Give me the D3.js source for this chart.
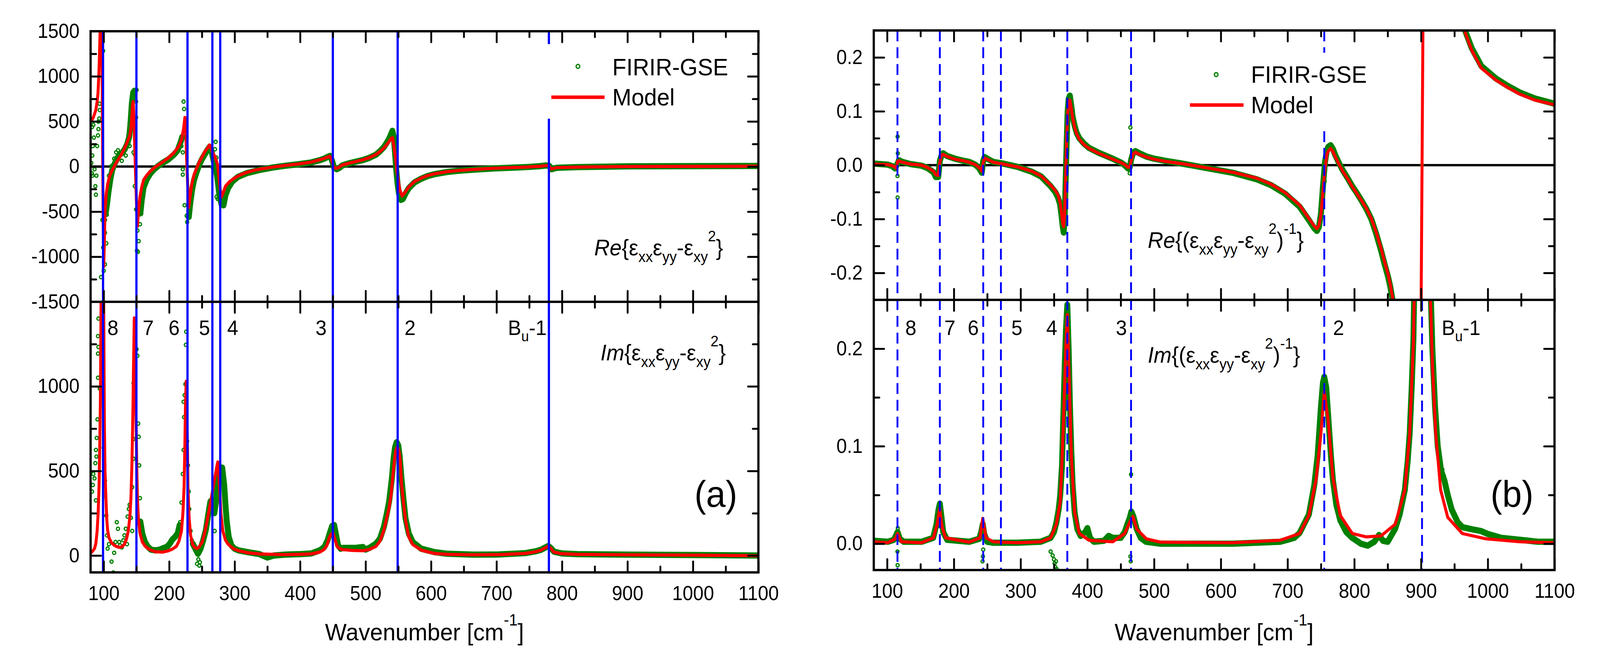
<!DOCTYPE html>
<html>
<head>
<meta charset="utf-8">
<script src="https://cdn.jsdelivr.net/npm/d3@7/dist/d3.min.js"></script>
<style>
html, body { margin: 0; padding: 0; background: #fff; overflow: hidden; }
#chart { display: block; width: 100vw; height: 100vh; }
text { font-family: "Liberation Sans", Arial, sans-serif; fill: #000; }
</style>
</head>
<body>
<svg id="chart" viewBox="0 0 4327 1675" preserveAspectRatio="none"></svg>
<script>
// ---------- data: [wavenumber, value] ----------

// (a) upper: Re{exx*eyy - exy^2}
var aReModel = [[80,497],[84,540],[88,626],[90,720],[91.3,813],[92.5,1000],[93.3,1165],[94.5,1500],[95.5,2200],[96.5,2300],[97.3,1500],[98.2,400],[99.2,-600],[100,-1110],[101,-850],[102,-500],[104,-300],[106,-195],[109,-110],[112,-54],[116,0],[120,52],[126,120],[132,204],[136,270],[140,345],[142,450],[144,680],[145,720],[146,560],[147.5,204],[148.5,-30],[149.5,-265],[150.5,-480],[151.5,-663],[153,-520],[155.4,-335],[158,-230],[161,-148],[166,-95],[171,-54],[177,-15],[183,16],[190,50],[199,98],[207,150],[215,227],[219,300],[222,420],[224,544],[225.5,350],[226.7,87],[228,-150],[229,-330],[230,-452],[232,-330],[234.6,-195],[238,-90],[242.6,-7],[246,50],[250.5,110],[254,160],[258.4,204],[261.6,239],[264,200],[266,160],[270,110],[274,20],[276,-120],[278,-260],[280,-335],[282,-300],[286,-218],[292,-170],[298,-136],[308,-95],[318,-66],[328,-45],[337.6,-30],[357,-7],[377,12],[397,28],[417,49],[430,75],[437,91],[442,105],[445,115],[448,80],[450.5,5],[453,-15],[456,-19],[460,-5],[464,16],[470,28],[476,40],[486,57],[496,75],[506,100],[516,134],[522,165],[528,204],[532,240],[535.6,274],[539.6,315],[541.2,320],[543.6,204],[546,80],[548,-60],[550,-150],[552,-250],[555.8,-327],[560,-290],[565.7,-227],[575,-165],[585.5,-127],[595,-100],[605.3,-80],[625,-56],[645,-42],[664.7,-32],[704.4,-16],[744,-6],[765,2],[775.6,10],[779,12],[783.6,-26],[787,-20],[791.5,-12],[823,-6],[862,-3],[902,0],[1000,2],[1100,4]];
var aReBand = [[103,-520],[105,-420],[107,-300],[110,-150],[113,-40],[116,20],[120,80],[124,130],[128,150],[132,190],[136,250],[139,330],[141,480],[143,700],[145,820],[147,840],[150,null],[156,-520],[158,-380],[161,-230],[166,-140],[171,-80],[177,-30],[183,5],[190,40],[199,80],[207,130],[213,180],[217,260],[220,330],[225,null],[230,-560],[232,-420],[235,-260],[238,-150],[242,-60],[246,20],[250,80],[254,130],[258,180],[262,220],[265,160],[268,60],[271,0],[274,-150],[277,-330],[280,-420],[283,-430],[286,-320],[290,-240],[296,-170],[305,-115],[318,-75],[337,-40],[357,-12],[377,8],[397,25],[417,45],[430,70],[437,88],[443,110],[446,118],[449,60],[452,-15],[456,-30],[460,-15],[464,10],[470,25],[476,38],[486,55],[496,72],[506,97],[516,132],[522,170],[528,215],[532,260],[536,310],[539,360],[541,396],[543,330],[545,150],[547,-50],[549,-200],[551,-300],[554,-370],[557,-360],[561,-300],[566,-240],[575,-175],[585,-135],[595,-105],[605,-85],[625,-60],[645,-45],[665,-35],[705,-18],[744,-7],[765,3],[776,12],[781,5],[784,-30],[788,-22],[792,-14],[823,-6],[862,-2],[902,2],[1000,4],[1100,6]];
var aReScatter = [[81,40],[82.2,438],[82.2,-77],[82.6,122],[83,-101],[83.4,227],[84.2,462],[85,321],[86,-30],[87.3,-218],[88.1,-312],[88.9,-101],[90,227],[91.3,345],[92,415],[92,497],[93.3,532],[93.7,696],[94,626],[96,-1226],[98,-593],[99.2,1282],[99.2,-898],[100,-1156],[102,-593],[102,-734],[102,-1085],[104,-499],[104,-851],[104.8,-534],[108,-101],[112,5],[116,87],[119,157],[121.8,180],[127.7,63],[133.7,122],[137.6,345],[139.6,227],[139.6,485],[141.6,649],[142.8,743],[144.4,813],[145.5,157],[147.5,134],[147.5,837],[147.5,-218],[149.5,720],[149.5,544],[149.5,-476],[150.3,849],[150.7,-933],[151.5,-710],[152.3,-945],[153.5,-827],[155.4,-640],[157.4,-523],[218.8,227],[220.8,157],[220.8,-30],[220.8,-89],[222,720],[222.8,638],[223.6,-429],[224.8,520],[226.7,-546],[227.5,-616],[229.5,-499],[266,-7],[268,-54],[270,192],[271,274],[272.3,98],[272.3,-335],[273.5,-171],[274,-359]];

// (a) lower: Im{exx*eyy - exy^2}
var aImModel = [[80,14],[83,25],[86,41],[88,70],[90,145],[91.5,250],[92.9,404],[94,650],[95,922],[96,1500],[97,2600],[98,3200],[99,2400],[100,1500],[101,793],[102,500],[102.8,404],[104,280],[104.8,210],[106,150],[108,106],[112,75],[116,61],[120,52],[124,48],[128,52],[131.7,67],[135,100],[137.6,145],[140,230],[141.6,339],[143,520],[144.4,793],[145.5,1100],[146.7,1405],[147.8,1150],[149.5,793],[150.5,520],[151.5,339],[153,220],[155.4,132],[159,80],[163.4,54],[170,35],[179,22],[190,20],[199,28],[205,38],[211,54],[215,85],[218.8,145],[221,250],[222.8,404],[224,650],[225,900],[226,1030],[227,850],[228,620],[228.7,404],[230.5,220],[232.7,119],[236,65],[239,47],[242.6,41],[246,52],[250.5,80],[254,130],[258.4,210],[262,290],[264.4,339],[268,420],[270.3,469],[272.5,520],[274.3,553],[275.5,500],[277.4,378],[279,250],[282,145],[286,90],[290,67],[298,40],[306,28],[320,16],[337.6,9],[377,5],[417,9],[430,20],[436.6,35],[441,60],[444.6,106],[447,125],[450.5,132],[453,100],[456.4,54],[460,42],[464,35],[480,30],[496,28],[506,36],[516,54],[522,85],[527.7,145],[531,200],[535.6,275],[539,360],[541.6,469],[544,560],[546,620],[548.5,642],[551,620],[553,560],[555,420],[557.8,316],[561,210],[565.7,113],[572,65],[585.5,31],[605.3,12],[625,7],[664.7,4],[704,5],[744,12],[760,22],[767.7,31],[773,42],[778.8,54],[783,42],[787.5,20],[800,10],[823,7],[900,4],[1000,2],[1100,-2]];
var aImBand = [[156,200],[159,130],[163,80],[167,54],[172,35],[179,30],[186,35],[192,45],[197,52],[201,70],[205,95],[209,110],[213,130],[216,180],[226,null],[236,70],[240,40],[244,10],[248,40],[252,90],[256,150],[260,250],[263,320],[266,330],[269,250],[272,330],[275,500],[278,510],[281,520],[284,420],[286,300],[288,200],[291,110],[295,60],[300,40],[306,30],[320,20],[338,8],[350,-12],[360,0],[377,5],[400,8],[417,12],[430,30],[437,50],[442,90],[446,140],[449,175],[452,180],[455,120],[458,60],[462,40],[466,45],[475,45],[485,45],[496,50],[500,35],[506,45],[516,70],[522,100],[528,170],[532,240],[536,320],[540,450],[543,580],[545,640],[547.5,670],[550,650],[552,590],[555,450],[558,330],[561,220],[566,130],[572,80],[585,40],[605,20],[625,10],[665,5],[704,6],[744,14],[760,25],[768,34],[774,46],[779,56],[783,44],[788,22],[800,12],[823,8],[900,5],[1000,3],[1100,0]];
var aImScatter = [[82.2,378],[83.4,417],[84.2,482],[86,456],[87.3,546],[88.1,624],[88.1,326],[88.9,585],[89.3,695],[90.5,805],[91.3,1297],[91.3,1194],[91.3,1051],[92,1401],[92,1233],[94,987],[100,637],[101,533],[102,443],[102,352],[104,236],[105,119],[106,41],[108,67],[112,-36],[114.7,-101],[116,16],[118,80],[120,197],[121.8,158],[123.8,80],[125,60],[127.7,48],[130,90],[131.7,119],[133.7,158],[135.6,67],[136.5,230],[138.4,275],[139.6,300],[141.6,223],[143.6,145],[143.6,404],[145.5,572],[145.5,689],[145.5,1019],[147.5,948],[147.5,1207],[150.3,1220],[151.5,1181],[152.7,780],[153.5,702],[154.3,533],[155.4,339],[216.8,197],[218.8,313],[220.8,482],[222,624],[222,909],[222.8,818],[223.6,948],[224.8,1013],[225.5,1246],[226,1323],[227.5,676],[228.7,533],[229.9,378],[230.7,275],[232.7,145],[234.5,90],[242.6,-49],[244.6,-23],[246,-60],[247,-40],[267,313],[269.5,145],[270,280]];

// (b) upper: Re{(exx*eyy - exy^2)^-1}
var bReModel = [[80,0.002],[90,0.0015],[101,0.001],[108,-0.001],[112,-0.004],[114,-0.006],[115.7,0.007],[118,0.008],[122.8,0.0055],[135,0.002],[151.5,0],[160,-0.004],[169.4,-0.011],[173,-0.018],[176.6,-0.019],[179,0.005],[181,0.018],[183.8,0.020],[190,0.016],[201.7,0.011],[215,0.008],[223,0.0055],[232,0.001],[237.5,-0.004],[241.8,-0.011],[244,0.005],[246,0.013],[250,0.011],[259,0.0055],[273.4,0.002],[295,-0.003],[316.4,-0.011],[330.7,-0.020],[345,-0.037],[352,-0.047],[356,-0.055],[359,-0.068],[361,-0.085],[363,-0.107],[364.5,-0.114],[366,-0.09],[367.5,-0.02],[369,0.05],[370.5,0.095],[372,0.115],[373.8,0.121],[376,0.105],[378,0.088],[381,0.070],[384,0.058],[388,0.048],[395,0.038],[402.5,0.031],[417,0.022],[438,0.011],[450,0.005],[456,0.001],[461,-0.004],[463.5,-0.003],[466,0.01],[469,0.021],[472,0.024],[478,0.020],[488.5,0.015],[500,0.011],[517,0.007],[546,0.002],[581.7,-0.0055],[617.5,-0.013],[653.4,-0.024],[675,-0.035],[696.4,-0.051],[718,-0.074],[732,-0.099],[740,-0.113],[744,-0.118],[747,-0.112],[750,-0.092],[753,-0.05],[756,-0.007],[759,0.02],[761,0.026],[764.5,0.031],[768,0.025],[771.7,0.015],[777,0.002],[782.5,-0.011],[790,-0.025],[797,-0.040],[804,-0.053],[811,-0.066],[818,-0.080],[825.5,-0.099],[833,-0.125],[840,-0.154],[845,-0.178],[850.6,-0.202],[854,-0.222],[857.7,-0.248],[865,-0.32],[875,-0.45],[885,-0.75],[893,-1.6],[901.5,0],[910,1.6],[925,0.8],[945,0.4],[965.3,0.249],[976,0.213],[990.4,0.180],[1012,0.158],[1030,0.144],[1047.7,0.132],[1070,0.121],[1100,0.112]];
var bReBand = [[80,0.003],[90,0.002],[101,0.001],[108,-0.002],[112,-0.006],[118,0.009],[123,0.006],[135,0.002],[151.5,-0.001],[160,-0.005],[169.4,-0.013],[173,-0.022],[176.6,-0.022],[179,0.008],[182,0.020],[184,0.022],[190,0.017],[201.7,0.012],[215,0.008],[223,0.006],[232,0.001],[237.5,-0.005],[241.8,-0.014],[244,0.008],[246,0.015],[250,0.012],[259,0.006],[273.4,0.003],[295,-0.003],[316.4,-0.012],[330.7,-0.021],[345,-0.039],[352,-0.05],[356,-0.06],[359,-0.072],[361,-0.09],[363,-0.113],[364.5,-0.125],[366,-0.1],[367.5,-0.03],[369,0.04],[370.5,0.1],[372,0.123],[373.8,0.129],[376,0.11],[378,0.09],[381,0.073],[384,0.06],[388,0.05],[395,0.04],[402.5,0.032],[417,0.023],[438,0.012],[450,0.005],[456,0.0],[461,-0.006],[463.5,-0.004],[466,0.012],[469,0.024],[472,0.026],[478,0.022],[488.5,0.016],[500,0.012],[517,0.008],[546,0.002],[581.7,-0.006],[617.5,-0.014],[653.4,-0.026],[675,-0.037],[696.4,-0.053],[718,-0.077],[732,-0.102],[740,-0.117],[744,-0.122],[747,-0.115],[750,-0.09],[753,-0.04],[756,0.005],[759,0.028],[761,0.034],[764.5,0.037],[768,0.03],[771.7,0.018],[777,0.004],[782.5,-0.009],[790,-0.024],[797,-0.039],[804,-0.052],[811,-0.066],[818,-0.081],[825.5,-0.1],[833,-0.128],[840,-0.158],[845,-0.182],[850.6,-0.207],[854,-0.226],[858,-0.255],[900,null],[963,0.26],[965.3,0.252],[976,0.217],[990.4,0.184],[1012,0.161],[1030,0.147],[1047.7,0.135],[1070,0.124],[1100,0.114]];
var bReScatter = [[115.7,0.053],[116,0.022],[115.5,-0.020],[115.7,-0.060],[116.5,0.010],[464.5,0.070],[463.5,-0.015],[466,0.008],[901.5,0],[368.5,0.0],[369,0.02],[369.5,0.05],[370,0.075],[370.5,0.09],[755.5,-0.03],[756,-0.01],[756.5,0.005],[757,0.015]];

// (b) lower: Im{(exx*eyy - exy^2)^-1}
var bImModel = [[80,0.002],[101,0.001],[112,0.005],[115.7,0.0105],[121.4,0.002],[151.5,0.001],[169.4,0.006],[175,0.020],[178.7,0.036],[182.3,0.0175],[187.4,0.006],[223,0.0016],[239,0.006],[243.3,0.026],[248.3,0.006],[259,0.002],[295,0.001],[330.7,0.002],[345,0.006],[353.7,0.020],[359.4,0.043],[363.7,0.113],[368,0.207],[370,0.235],[372.3,0.184],[376,0.090],[381,0.032],[388,0.0105],[402.5,0.0035],[438,0.002],[456,0.0105],[463.4,0.022],[468.4,0.028],[474,0.015],[488.5,0.005],[510,0.0016],[617.5,0.001],[689,0.0035],[718,0.0105],[732,0.029],[743,0.067],[750,0.113],[755,0.156],[761,0.125],[768,0.067],[779,0.029],[797,0.0105],[818,0.007],[840,0.008],[861.3,0.020],[875.7,0.055],[883,0.113],[888.6,0.207],[890,0.26],[895,0.6],[901.5,1.0],[908,0.6],[913.7,0.26],[917,0.184],[922,0.113],[929.4,0.055],[940,0.027],[961.7,0.0105],[997.5,0.005],[1048,0.002],[1100,0.001]];
var bImBand = [[80,0.003],[101,0.002],[110,0.004],[113,0.008],[115.7,0.012],[119,0.005],[125,0.002],[151.5,0.002],[169,0.006],[174,0.02],[177,0.035],[179,0.041],[181,0.03],[184,0.012],[190,0.004],[223,0.002],[238,0.005],[241,0.012],[243.3,0.02],[245.5,0.01],[250,0.002],[259,0.001],[295,0.001],[330,0.002],[345,0.006],[350,0.012],[353.7,0.022],[357,0.035],[359.4,0.05],[362,0.08],[364,0.13],[366,0.18],[368,0.22],[370,0.245],[372,0.2],[374,0.14],[376,0.095],[378,0.06],[381,0.032],[385,0.015],[390,0.008],[397,0.012],[400,0.016],[404,0.006],[410,0.002],[425,0.003],[432,0.008],[438,0.006],[450,0.006],[456,0.012],[460,0.02],[463.4,0.026],[466,0.033],[469,0.028],[474,0.015],[480,0.006],[488,0.002],[510,0.0],[560,0.0],[617.5,0.0],[689,0.002],[710,0.006],[718,0.011],[732,0.03],[740,0.06],[745,0.09],[750,0.14],[753,0.165],[755,0.171],[758,0.16],[761,0.13],[765,0.09],[768,0.065],[773,0.04],[779,0.024],[788,0.012],[797,0.006],[810,0.0],[820,-0.002],[830,0.002],[837,0.009],[843,0.003],[850,0.002],[861,0.015],[868,0.03],[875.7,0.055],[880,0.085],[883,0.113],[886,0.16],[888.6,0.21],[890,0.27],[901.5,1.0],[914,0.27],[917,0.2],[921,0.14],[925,0.1],[930,0.075],[935,0.065],[940,0.05],[946,0.035],[955,0.022],[962,0.017],[975,0.015],[990,0.013],[1000,0.01],[1020,0.006],[1048,0.004],[1075,0.002],[1100,0.002]];
var bImScatter = [[115.7,-0.022],[115.5,-0.008],[116,0.016],[243.5,-0.013],[243,-0.018],[244,-0.006],[345,-0.008],[348,-0.012],[350,-0.016],[351,-0.02],[352,-0.024],[353,-0.018],[354,-0.026],[465.5,0.071],[464.5,-0.013],[465,-0.018],[932,0.076],[934,0.07],[935,0.067]];

// mode positions (cm-1) and their labels
var modeLinesA = [99, 150, 228, 266, 278, 450, 549, 780];
var modeLinesB = [115.5, 179, 244, 270.5, 370, 465.5, 755, 901.5];
var modeNames = ["8", "7", "6", "5", "4", "3", "2", "Bu-1"];
var modeLabelNuA = [114, 168, 207.6, 254, 297, 432, 568, 747];
var modeLabelNuB = [135.5, 194, 229, 294.5, 346.6, 451, 776.4, 960];

// tick values
var xMajor = d3.range(100, 1101, 100);
var xMinor = d3.range(150, 1100, 100);
var aUpMajor = [-1500, -1000, -500, 0, 500, 1000, 1500];
var aUpMinor = [-1250, -750, -250, 250, 750, 1250];
var aLoMajor = [0, 500, 1000];
var aLoMinor = [250, 750, 1250];
var bUpMajor = [-0.2, -0.1, 0, 0.1, 0.2];
var bUpMinor = [-0.15, -0.05, 0.05, 0.15];
var bLoMajor = [0, 0.1, 0.2];
var bLoMinor = [0.05, 0.15];

// ---------- drawing ----------
var GREEN = "#008000", RED = "#ff0000", BLUE = "#0000ff";
var FONT = "Liberation Sans, Arial, sans-serif";
var svg = d3.select("#chart");

var layout = {
  a: {left: 245, right: 2051, top: 80, mid: 773, bottom: 1466},
  b: {left: 2363, right: 4204, top: 78, mid: 768, bottom: 1460}
};

function mathText(sel, x, y, parts, size, anchor) {
  var t = sel.append("text").attr("x", x).attr("y", y)
    .attr("font-size", size).attr("text-anchor", anchor || "start");
  var shift = 0;
  parts.forEach(function(p) {
    var target = p.sub ? Math.round(size * 0.3) : p.sup ? -Math.round(size * 0.62) : 0;
    var ts = t.append("tspan").text(p.t).attr("dy", target - shift);
    shift = target;
    if (p.sub || p.sup) ts.attr("font-size", Math.round(size * 0.68));
    if (p.it) ts.attr("font-style", "italic");
  });
  return t;
}

function addAxis(g, axis, tx, ty, labelled) {
  var a = g.append("g").attr("transform", "translate(" + tx + "," + ty + ")").call(axis);
  // d3.axis sets its own font on the group, so override it afterwards
  a.attr("font-size", 51).attr("font-family", FONT);
  a.select(".domain").remove();
  a.selectAll(".tick line").attr("stroke", "#000").attr("stroke-width", 5).attr("stroke-linecap", "round");
  a.selectAll(".tick text").attr("fill", "#000");
  if (!labelled) a.selectAll(".tick text").remove();
  return a;
}

function drawSeries(g, x, y, model, band, scatter, clipId) {
  var line = d3.line()
    .defined(function(d) { return d[1] !== null; })
    .x(function(d) { return x(d[0]); })
    .y(function(d) { return y(d[1]); });
  var c = g.append("g").attr("clip-path", "url(#" + clipId + ")");
  c.append("path").datum(band).attr("d", line)
    .attr("fill", "none").attr("stroke", GREEN).attr("stroke-width", 16)
    .attr("stroke-linejoin", "round").attr("stroke-linecap", "round");
  var pts = band.filter(function(d) { return d[1] !== null; }).concat(scatter);
  c.selectAll("circle.pt").data(pts).enter().append("circle")
    .attr("class", "pt")
    .attr("cx", function(d) { return x(d[0]); })
    .attr("cy", function(d) { return y(d[1]); })
    .attr("r", 4.2).attr("fill", "none").attr("stroke", GREEN).attr("stroke-width", 3.3);
  c.append("path").datum(model).attr("d", line)
    .attr("fill", "none").attr("stroke", RED).attr("stroke-width", 8)
    .attr("stroke-linejoin", "round");
}

function drawPanel(key, cfg) {
  var L = layout[key];
  var x = d3.scaleLinear().domain([80, 1100]).range([L.left, L.right]);
  var yUp = d3.scaleLinear().domain(cfg.upDomain).range([L.mid, L.top]);
  var yLo = d3.scaleLinear().domain(cfg.loDomain).range([L.bottom, L.mid]);
  var g = svg.append("g").attr("id", "panel-" + key);

  var defs = g.append("defs");
  defs.append("clipPath").attr("id", "clip-" + key + "-up").append("rect")
    .attr("x", L.left).attr("y", L.top).attr("width", L.right - L.left).attr("height", L.mid - L.top);
  defs.append("clipPath").attr("id", "clip-" + key + "-lo").append("rect")
    .attr("x", L.left).attr("y", L.mid).attr("width", L.right - L.left).attr("height", L.bottom - L.mid);

  // zero line of the upper plot
  g.append("line").attr("x1", L.left).attr("x2", L.right)
    .attr("y1", yUp(0)).attr("y2", yUp(0)).attr("stroke", "#000").attr("stroke-width", 6);

  drawSeries(g, x, yUp, cfg.upModel, cfg.upBand, cfg.upScatter, "clip-" + key + "-up");
  drawSeries(g, x, yLo, cfg.loModel, cfg.loBand, cfg.loScatter, "clip-" + key + "-lo");

  // mode markers
  g.selectAll("line.mode").data(cfg.modes).enter().append("line")
    .attr("class", "mode")
    .attr("x1", function(d) { return x(d); }).attr("x2", function(d) { return x(d); })
    .attr("y1", function(d) { return cfg.lowerOnly.indexOf(d) >= 0 ? L.mid : L.top; })
    .attr("y2", L.bottom)
    .attr("stroke", BLUE).attr("stroke-width", cfg.dashed ? 5 : 6)
    .attr("stroke-dasharray", cfg.dashed ? "28,15" : null);

  // legend
  var lg = cfg.legend;
  g.append("rect").attr("x", lg.box[0]).attr("y", lg.box[1])
    .attr("width", lg.box[2] - lg.box[0]).attr("height", lg.box[3] - lg.box[1]).attr("fill", "#fff");
  g.append("circle").attr("cx", lg.cx).attr("cy", lg.cy).attr("r", 5)
    .attr("fill", "none").attr("stroke", GREEN).attr("stroke-width", 3.3);
  g.append("text").attr("x", lg.tx).attr("y", lg.ty1).attr("font-size", 62).text("FIRIR-GSE");
  g.append("line").attr("x1", lg.lx0).attr("x2", lg.lx1).attr("y1", lg.ly).attr("y2", lg.ly)
    .attr("stroke", RED).attr("stroke-width", 9);
  g.append("text").attr("x", lg.tx).attr("y", lg.ty2).attr("font-size", 62).text("Model");

  // function labels
  mathText(g, cfg.reLabel[0], cfg.reLabel[1], cfg.reParts, 58);
  mathText(g, cfg.imLabel[0], cfg.imLabel[1], cfg.imParts, 58);

  // mode numbers
  modeNames.forEach(function(name, i) {
    var parts = name === "Bu-1" ? [{t: "B"}, {t: "u", sub: 1}, {t: "-1"}] : [{t: name}];
    mathText(g, x(cfg.modeLabelNu[i]), 858, parts, 54, "middle");
  });

  // panel letter
  g.append("text").attr("x", L.right - 57).attr("y", 1298).attr("font-size", 95)
    .attr("text-anchor", "end").text("(" + key + ")");

  // axis title
  mathText(g, (L.left + L.right) / 2, 1640,
    [{t: "Wavenumber [cm"}, {t: "-1", sup: 1}, {t: "]"}], 62, "middle");

  // axes: ticks point inward everywhere
  var fmt = cfg.fmt;
  addAxis(g, d3.axisBottom(x).tickValues(xMajor).tickSizeInner(-28).tickSizeOuter(0).tickPadding(35).tickFormat(String), 0, L.bottom, true);
  addAxis(g, d3.axisBottom(x).tickValues(xMinor).tickSizeInner(-15).tickSizeOuter(0).tickFormat(""), 0, L.bottom, false);
  [[L.top, -1], [L.mid, 1], [L.mid, -1]].forEach(function(s) {
    addAxis(g, (s[1] < 0 ? d3.axisTop(x) : d3.axisBottom(x)).tickValues(xMajor).tickSizeInner(-28).tickSizeOuter(0), 0, s[0], false);
    addAxis(g, (s[1] < 0 ? d3.axisTop(x) : d3.axisBottom(x)).tickValues(xMinor).tickSizeInner(-15).tickSizeOuter(0), 0, s[0], false);
  });
  [[yUp, cfg.upMajor, cfg.upMinor], [yLo, cfg.loMajor, cfg.loMinor]].forEach(function(s) {
    addAxis(g, d3.axisLeft(s[0]).tickValues(s[1]).tickSizeInner(-28).tickSizeOuter(0).tickPadding(30).tickFormat(fmt), L.left, 0, true);
    addAxis(g, d3.axisLeft(s[0]).tickValues(s[2]).tickSizeInner(-15).tickSizeOuter(0), L.left, 0, false);
    addAxis(g, d3.axisRight(s[0]).tickValues(s[1]).tickSizeInner(-28).tickSizeOuter(0), L.right, 0, false);
    addAxis(g, d3.axisRight(s[0]).tickValues(s[2]).tickSizeInner(-15).tickSizeOuter(0), L.right, 0, false);
  });

  // frames
  g.append("rect").attr("x", L.left).attr("y", L.top)
    .attr("width", L.right - L.left).attr("height", L.bottom - L.top)
    .attr("fill", "none").attr("stroke", "#000").attr("stroke-width", 6);
  g.append("line").attr("x1", L.left).attr("x2", L.right).attr("y1", L.mid).attr("y2", L.mid)
    .attr("stroke", "#000").attr("stroke-width", 6);
}

var reA = [{t: "Re", it: 1}, {t: "{ε"}, {t: "xx", sub: 1}, {t: "ε"}, {t: "yy", sub: 1}, {t: "-ε"}, {t: "xy", sub: 1}, {t: "2", sup: 1}, {t: "}"}];
var imA = [{t: "Im", it: 1}, {t: "{ε"}, {t: "xx", sub: 1}, {t: "ε"}, {t: "yy", sub: 1}, {t: "-ε"}, {t: "xy", sub: 1}, {t: "2", sup: 1}, {t: "}"}];
var reB = [{t: "Re", it: 1}, {t: "{(ε"}, {t: "xx", sub: 1}, {t: "ε"}, {t: "yy", sub: 1}, {t: "-ε"}, {t: "xy", sub: 1}, {t: "2", sup: 1}, {t: ")"}, {t: "-1", sup: 1}, {t: "}"}];
var imB = [{t: "Im", it: 1}, {t: "{(ε"}, {t: "xx", sub: 1}, {t: "ε"}, {t: "yy", sub: 1}, {t: "-ε"}, {t: "xy", sub: 1}, {t: "2", sup: 1}, {t: ")"}, {t: "-1", sup: 1}, {t: "}"}];

drawPanel("a", {
  upDomain: [-1500, 1500], loDomain: [-100, 1500],
  upModel: aReModel, upBand: aReBand, upScatter: aReScatter,
  loModel: aImModel, loBand: aImBand, loScatter: aImScatter,
  upMajor: aUpMajor, upMinor: aUpMinor, loMajor: aLoMajor, loMinor: aLoMinor,
  fmt: function(d) { return String(d); },
  modes: modeLinesA, lowerOnly: [], dashed: false,
  modeLabelNu: modeLabelNuA,
  legend: {box: [1470, 113, 2000, 304], cx: 1563, cy: 170, tx: 1656, ty1: 193, ty2: 270, lx0: 1491, lx1: 1635, ly: 249},
  reLabel: [1607, 654], reParts: reA,
  imLabel: [1624, 923], imParts: imA
});

drawPanel("b", {
  upDomain: [-0.25, 0.25], loDomain: [-0.027, 0.25],
  upModel: bReModel, upBand: bReBand, upScatter: bReScatter,
  loModel: bImModel, loBand: bImBand, loScatter: bImScatter,
  upMajor: bUpMajor, upMinor: bUpMinor, loMajor: bLoMajor, loMinor: bLoMinor,
  fmt: function(d) { return d.toFixed(1); },
  modes: modeLinesB, lowerOnly: [901.5], dashed: true,
  modeLabelNu: modeLabelNuB,
  legend: {box: [3200, 135, 3730, 324], cx: 3289, cy: 191, tx: 3383, ty1: 212, ty2: 290, lx0: 3218, lx1: 3363, ly: 269},
  reLabel: [3104, 635], reParts: reB,
  imLabel: [3104, 929], imParts: imB
});
</script>
</body>
</html>
